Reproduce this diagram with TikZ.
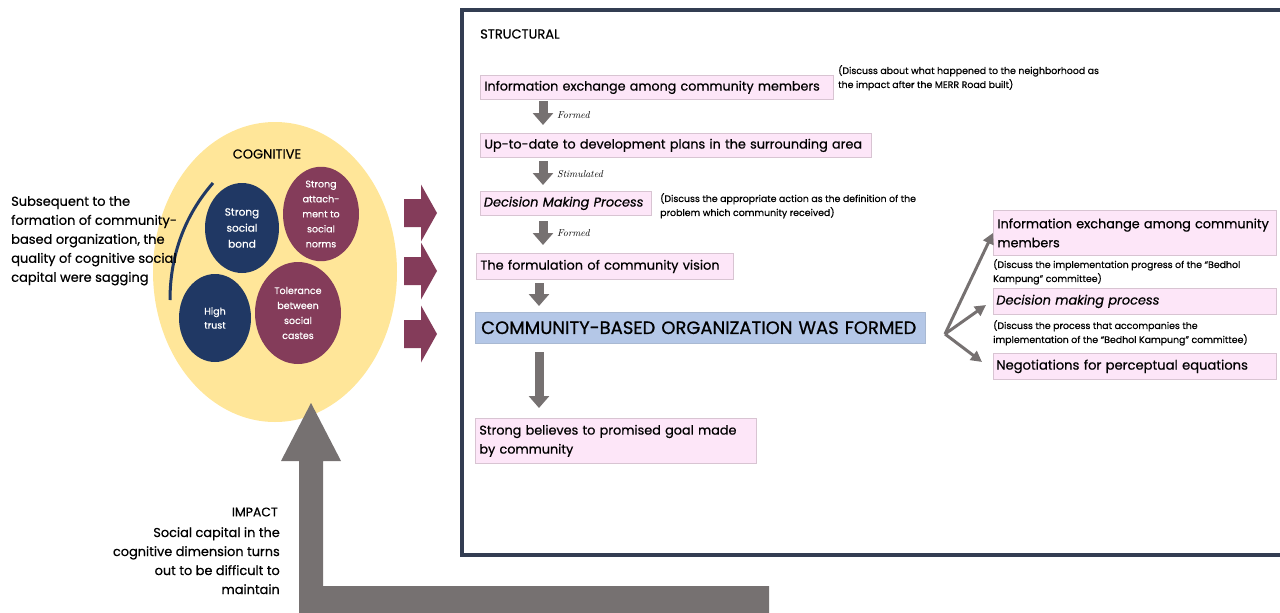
\documentclass[tikz,border=0pt]{standalone}
\usepackage{fontspec}
\setmainfont{Poppins}[FakeBold=0.6]
\usetikzlibrary{arrows.meta,shapes.geometric}
\definecolor{pinkfill}{HTML}{FDE6F8}
\definecolor{pinkline}{HTML}{D8C4D2}
\definecolor{bluefill}{HTML}{B4C7E7}
\definecolor{yellowfill}{HTML}{FFE699}
\definecolor{darkblue}{HTML}{203864}
\definecolor{maroon}{HTML}{843C5A}
\definecolor{arrowgray}{HTML}{767171}
\definecolor{framecol}{HTML}{333D52}
\newcommand\cursivefnt{\fontfamily{lmr}\selectfont\itshape}
\tikzset{
  pinkbox/.style={draw=pinkline, fill=pinkfill, line width=0.8pt, anchor=north west, inner xsep=5pt, inner ysep=0pt, align=left},
  note/.style={anchor=north west, inner sep=0pt, align=left, font=\fontsize{9.4}{14}\selectfont},
  blob/.style={ellipse, text=white, align=center, inner sep=0pt, font=\fontsize{10.5}{16}\selectfont},
  downarrow/.style={draw=arrowgray, line width=9pt, -{Triangle[width=20pt,length=12pt]}},
  branch/.style={draw=arrowgray, line width=3pt, -{Triangle[width=11pt,length=11pt]}},
  steplabel/.style={anchor=west, inner sep=0pt, font=\cursivefnt\fontsize{10}{11}\selectfont},
}
\begin{document}
\begin{tikzpicture}[x=1pt,y=-1pt]
\useasboundingbox (0,0) rectangle (1280,613);
\clip (0,0) rectangle (1280,613);
% frame
\draw[framecol, line width=3.5pt] (462,10) rectangle (1300,555);
\node[anchor=west, inner sep=0pt, font=\fontsize{13}{14}\selectfont] (structural) at (480,34) {STRUCTURAL};
% left column boxes
\node[pinkbox, minimum width=353pt, minimum height=24pt, text width=345pt, inner xsep=4pt, font=\fontsize{12.7}{16}\selectfont] (b1) at (480,75) {Information exchange among community members};
\node[note] (n1) at (838,65) {(Discuss about what happened to the neighborhood as\\the impact after the MERR Road built)};
\node[pinkbox, minimum width=391pt, minimum height=24pt, text width=383pt, inner xsep=4pt, font=\fontsize{12.8}{16}\selectfont] (b2) at (480,133) {Up-to-date to development plans in the surrounding area};
\node[pinkbox, minimum width=171pt, minimum height=24pt, text width=164pt, inner xsep=3.5pt, font=\fontsize{12.9}{16}\selectfont\itshape] (b3) at (480,191) {Decision Making Process};
\node[note] (n3) at (660,193) {(Discuss the appropriate action as the definition of the\\problem which community received)};
\node[pinkbox, minimum width=257pt, minimum height=26pt, text width=249pt, inner xsep=4pt, font=\fontsize{12.9}{16}\selectfont] (b4) at (476,253) {The formulation of community vision};
\node[draw=bluefill!80!gray, fill=bluefill, anchor=north west, inner xsep=6pt, inner ysep=0pt, minimum width=450pt, minimum height=31pt, text width=438pt, align=left, font=\fontsize{18}{20}\selectfont] (b5) at (475,312) {COMMUNITY-BASED ORGANIZATION WAS FORMED};
\node[pinkbox, minimum width=281pt, minimum height=45pt, text width=273pt, inner xsep=4pt, font=\fontsize{12.8}{19}\selectfont] (b6) at (475,418) {Strong believes to promised goal made\\by community};
% down arrows
\draw[downarrow] (543,101) -- (543,125);
\node[steplabel] (l1) at (557,115) {Formed};
\draw[downarrow] (543,161) -- (543,185);
\node[steplabel] (l2) at (557,174) {Stimulated};
\draw[downarrow] (543,221) -- (543,245);
\node[steplabel] (l3) at (557,233) {Formed};
\draw[downarrow] (539,283) -- (539,306);
\draw[downarrow] (539,352) -- (539,408);
% right boxes
\node[pinkbox, minimum width=283pt, minimum height=45pt, text width=275pt, inner xsep=4pt, font=\fontsize{12.8}{19}\selectfont] (r1) at (993,210) {Information exchange among community\\members};
\node[note] (nr1) at (993,259) {(Discuss the implementation progress of the ``Bedhol\\Kampung'' committee)};
\node[pinkbox, minimum width=283pt, minimum height=26pt, text width=277pt, inner xsep=3pt, font=\fontsize{12.9}{16}\selectfont\itshape] (r2) at (993,288) {Decision making process};
\node[note] (nr2) at (993,320) {(Discuss the process that accompanies the\\implementation of the ``Bedhol Kampung'' committee)};
\node[pinkbox, minimum width=283pt, minimum height=26pt, text width=277pt, inner xsep=3pt, font=\fontsize{13.1}{16}\selectfont] (r3) at (993,353) {Negotiations for perceptual equations};
\coordinate (br) at (945,334);
\draw[branch] (br) -- (r1.west);
\draw[branch] (br) -- (986,305);
\draw[branch] (br) -- (982,362);
% cognitive ellipse
\node[ellipse, fill=yellowfill, minimum width=244pt, minimum height=300pt, inner sep=0pt] (cog) at (275,272) {};
\node[inner sep=0pt, font=\fontsize{13}{14}\selectfont] (cogt) at (267,154) {COGNITIVE};
\node[blob, fill=darkblue, minimum width=74pt, minimum height=90pt] (c1) at (242,228) {Strong\\social\\bond};
\node[blob, fill=maroon, minimum width=76pt, minimum height=94pt, font=\fontsize{9.5}{15}\selectfont] (c2) at (321,214) {Strong\\attach-\\ment to\\social\\norms};
\node[blob, fill=darkblue, minimum width=72pt, minimum height=88pt, font=\fontsize{9.5}{14}\selectfont] (c3) at (215,318) {High\\trust};
\node[blob, fill=maroon, minimum width=86pt, minimum height=102pt, font=\fontsize{9.5}{15}\selectfont] (c4) at (298,313) {Tolerance\\between\\social\\castes};
\draw[darkblue, line width=3pt] (213,183) .. controls (185,215) and (170,255) .. (170,300);
\node[anchor=north west, inner sep=0pt, align=left, font=\fontsize{13}{19}\selectfont] (lefttext) at (11,196) {Subsequent to the\\formation of community-\\based organization, the\\quality of cognitive social\\capital were sagging};
% maroon arrows
\foreach \yc in {213,271,334}{
  \fill[maroon] (404,\yc-14) -- (421,\yc-14) -- (421,\yc-28.5) -- (437,\yc) -- (421,\yc+28.5) -- (421,\yc+14) -- (404,\yc+14) -- cycle;
}
% impact arrow
\coordinate (barend) at (769,586);
\fill[arrowgray] (barend) -- (769,613) -- (299,613) -- (299,461) -- (281,461) -- (311,403) -- (341,461) -- (323,461) -- (323,586) -- cycle;
\node[anchor=east, inner sep=0pt, font=\fontsize{12.5}{14}\selectfont] (impact) at (278,512) {IMPACT};
\node[anchor=north east, inner sep=0pt, align=right, font=\fontsize{12.9}{19}\selectfont] (impacttext) at (280,527) {Social capital in the\\cognitive dimension turns\\out to be difficult to\\maintain};
\end{tikzpicture}
\end{document}
